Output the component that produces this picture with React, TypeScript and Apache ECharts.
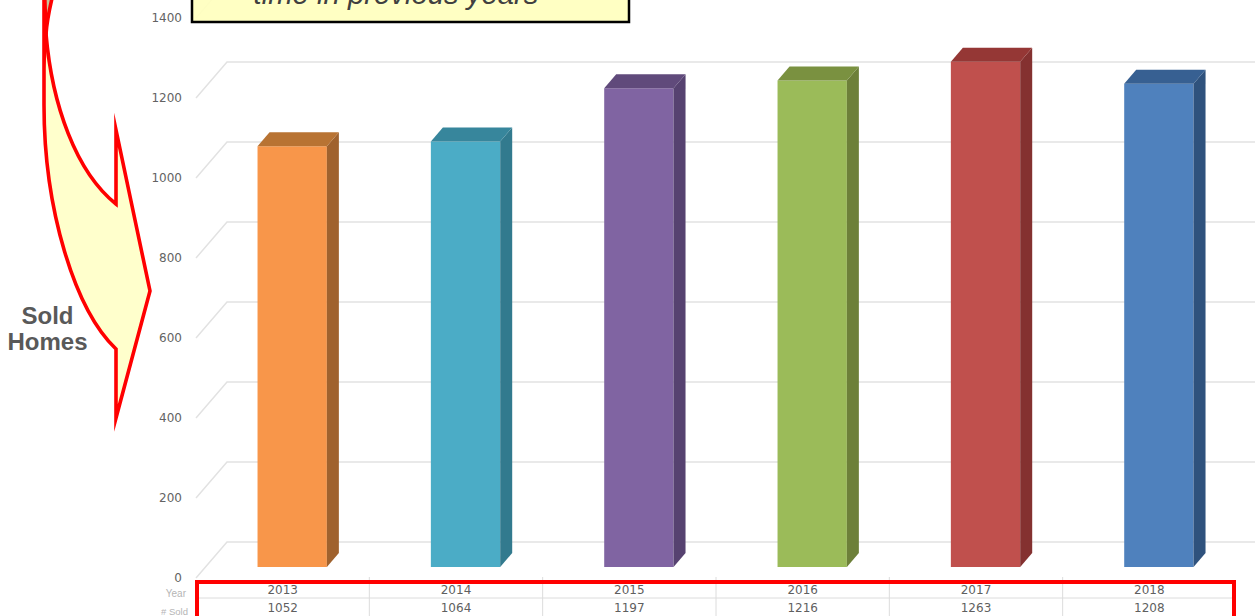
import React, { useEffect, useRef } from "react";
import * as echarts from "echarts";

const years = ["2013", "2014", "2015", "2016", "2017", "2018"];
const sold = [1052, 1064, 1197, 1216, 1263, 1208];
const yTicks = [0, 200, 400, 600, 800, 1000, 1200, 1400];
const frontColors = ["#F8964A", "#4BACC6", "#8064A2", "#9BBB59", "#C0504D", "#4F81BD"];
const sideColors = ["#A0622E", "#327A8E", "#564270", "#6D8039", "#843130", "#2F527D"];
const topColors = ["#B87333", "#37869C", "#604A7B", "#7A9140", "#953735", "#376092"];

const ARROW_BODY =
  "M44,-10 L44,105 C44,210 75,310 116,349 L116,418 L150,291 L116,130 L116,204 C76,172 52,105 46,34 Z";
const ARROW_FOLD = "M44.5,-10 L46,34 C47,20 50,6 54,-10 Z";

echarts.graphic.registerShape("arrowBody", echarts.graphic.extendPath(ARROW_BODY, {}) as any);
echarts.graphic.registerShape("arrowFold", echarts.graphic.extendPath(ARROW_FOLD, {}) as any);

const GRID_LEFT = 196;
const GRID_RIGHT_EDGE = 1236;
const BAND = (GRID_RIGHT_EDGE - GRID_LEFT) / years.length;

export default function App() {
  const ref = useRef<HTMLDivElement>(null);
  useEffect(() => {
    document.body.style.margin = "0";
    const chart = echarts.init(ref.current!, undefined, { renderer: "svg" });
    const tableLines = years.slice(1).map((_, i) => ({
      type: "line",
      z: 90,
      shape: {
        x1: GRID_LEFT + BAND * (i + 1),
        y1: 577,
        x2: GRID_LEFT + BAND * (i + 1),
        y2: 616,
      },
      style: { stroke: "#dcdcdc", lineWidth: 1 },
    }));
    chart.setOption({
      animation: false,
      backgroundColor: "#ffffff",
      grid: { left: GRID_LEFT, right: 1255 - GRID_RIGHT_EDGE, top: 18, bottom: 38 },
      xAxis: [
        {
          type: "category",
          data: years,
          position: "bottom",
          axisLine: { show: false },
          axisTick: { show: false },
          axisLabel: { color: "#5f5f5f", fontSize: 12, fontFamily: "DejaVu Sans", margin: 6 },
        },
        {
          type: "category",
          data: sold.map(String),
          position: "bottom",
          offset: 18,
          axisLine: { show: false },
          axisTick: { show: false },
          axisLabel: { color: "#5f5f5f", fontSize: 12, fontFamily: "DejaVu Sans", margin: 6 },
        },
      ],
      yAxis: {
        type: "value",
        min: 0,
        max: 1400,
        interval: 200,
        axisLine: { show: false },
        axisTick: { show: false },
        splitLine: { show: false },
        axisLabel: {
          color: "#636363",
          fontSize: 12,
          fontFamily: "DejaVu Sans",
          margin: 14,
          padding: [2, 0, 0, 0],
          formatter: (v: number) => String(v),
        },
      },
      series: [
        {
          type: "custom",
          z: 1,
          silent: true,
          encode: { x: 0, y: 1 },
          data: yTicks.map((v) => [0, v]),
          renderItem: (params: any, api: any) => {
            const y = api.coord([0, api.value(1)])[1];
            const x = params.coordSys.x;
            return {
              type: "polyline",
              shape: {
                points: [
                  [x, y],
                  [x + 31, y - 36],
                  [api.getWidth(), y - 36],
                ],
              },
              style: { stroke: "#e2e2e2", lineWidth: 1.5, fill: "none" },
            };
          },
        },
        {
          type: "custom",
          z: 2,
          silent: true,
          encode: { x: 0, y: 1 },
          data: sold.map((v, i) => [i, v]),
          renderItem: (_params: any, api: any) => {
            const i = api.value(0);
            const band = api.size([1, 0])[0];
            const top = api.coord([i, api.value(1)]);
            const base = api.coord([i, 0]);
            const lift = 11;
            const l = top[0] + band * 0.055 - band * 0.2;
            const r = l + band * 0.4;
            const t = top[1] - lift;
            const b = base[1] - lift;
            const dx = 12;
            const dy = -14;
            return {
              type: "group",
              children: [
                {
                  type: "rect",
                  shape: { x: l, y: t, width: r - l, height: b - t },
                  style: { fill: frontColors[i] },
                },
                {
                  type: "polygon",
                  shape: { points: [[r, t], [r + dx, t + dy], [r + dx, b + dy], [r, b]] },
                  style: { fill: sideColors[i] },
                },
                {
                  type: "polygon",
                  shape: { points: [[l, t], [l + dx, t + dy], [r + dx, t + dy], [r, t]] },
                  style: { fill: topColors[i] },
                },
              ],
            };
          },
        },
      ],
      graphic: [
        {
          type: "rect",
          z: 100,
          shape: { x: 192, y: -30, width: 437, height: 52 },
          style: { fill: "rgba(255,255,190,0.92)", stroke: "#000000", lineWidth: 2.5 },
        },
        {
          type: "text",
          z: 101,
          x: 396,
          y: 8,
          style: {
            text: "time in previous years",
            font: 'italic 29.3px "Liberation Sans"',
            fill: "#404040",
            textAlign: "center",
            textVerticalAlign: "bottom",
          },
        },
        {
          type: "arrowBody",
          z: 100,
          x: 0,
          y: 0,
          style: { fill: "#FFFFCC", stroke: "#FF0000", lineWidth: 3.6, miterLimit: 30, lineJoin: "miter" },
        },
        {
          type: "arrowFold",
          z: 101,
          x: 0,
          y: 0,
          style: { fill: "#C9C49C", stroke: "#FF0000", lineWidth: 3.6, miterLimit: 30, lineJoin: "miter" },
        },
        {
          type: "text",
          z: 101,
          x: 47.5,
          y: 328,
          style: {
            text: "Sold\nHomes",
            font: 'bold 24px "Liberation Sans"',
            lineHeight: 26,
            fill: "#595959",
            textAlign: "center",
            textVerticalAlign: "middle",
          },
        },
        {
          type: "text",
          z: 101,
          x: 186,
          y: 593,
          style: {
            text: "Year",
            font: '10px "Liberation Sans"',
            fill: "#b5b5b5",
            textAlign: "right",
            textVerticalAlign: "middle",
          },
        },
        {
          type: "text",
          z: 101,
          x: 188,
          y: 611,
          style: {
            text: "# Sold",
            font: '9.5px "Liberation Sans"',
            fill: "#b5b5b5",
            textAlign: "right",
            textVerticalAlign: "middle",
          },
        },
        ...tableLines,
        {
          type: "line",
          z: 90,
          shape: { x1: 197, y1: 598, x2: 1234, y2: 598 },
          style: { stroke: "#dcdcdc", lineWidth: 1 },
        },
        {
          type: "rect",
          z: 95,
          shape: { x: 197, y: 582, width: 1037, height: 60 },
          style: { fill: "none", stroke: "#FF0000", lineWidth: 4 },
        },
      ],
    });
    return () => chart.dispose();
  }, []);
  return <div ref={ref} style={{ width: 1255, height: 616 }} />;
}
